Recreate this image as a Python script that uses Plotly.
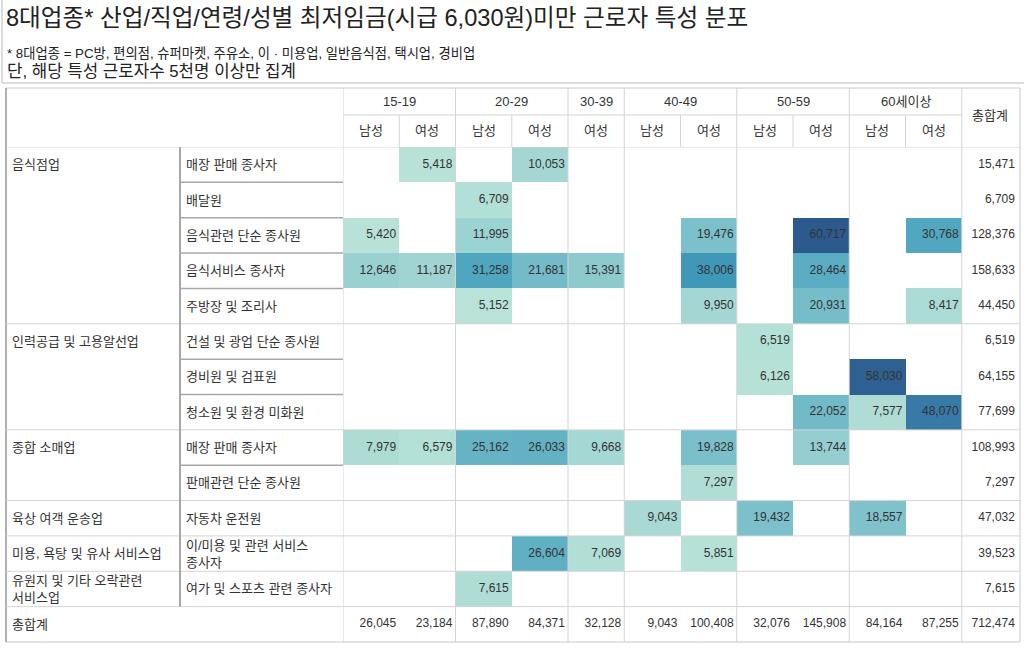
import plotly.graph_objects as go

# ---------------- data ----------------
age_groups = ["15-19", "20-29", "30-39", "40-49", "50-59", "60세이상"]
age_spans = [2, 2, 1, 2, 2, 2]
genders = ["남성", "여성", "남성", "여성", "여성", "남성", "여성", "남성", "여성", "남성", "여성"]
total_label = "총합계"

industries = ["음식점업", "인력공급 및 고용알선업", "종합 소매업", "육상 여객 운송업",
              "미용, 욕탕 및 유사 서비스업", "유원지 및 기타 오락관련<br>서비스업"]
industry_sizes = [5, 3, 2, 1, 1, 1]

occupations = ["매장 판매 종사자", "배달원", "음식관련 단순 종사원", "음식서비스 종사자",
               "주방장 및 조리사", "건설 및 광업 단순 종사원", "경비원 및 검표원",
               "청소원 및 환경 미화원", "매장 판매 종사자", "판매관련 단순 종사원",
               "자동차 운전원", "이/미용 및 관련 서비스<br>종사자", "여가 및 스포츠 관련 종사자"]

N = None
values = [
    [N, 5418, N, 10053, N, N, N, N, N, N, N],
    [N, N, 6709, N, N, N, N, N, N, N, N],
    [5420, N, 11995, N, N, N, 19476, N, 60717, N, 30768],
    [12646, 11187, 31258, 21681, 15391, N, 38006, N, 28464, N, N],
    [N, N, 5152, N, N, N, 9950, N, 20931, N, 8417],
    [N, N, N, N, N, N, N, 6519, N, N, N],
    [N, N, N, N, N, N, N, 6126, N, 58030, N],
    [N, N, N, N, N, N, N, N, 22052, 7577, 48070],
    [7979, 6579, 25162, 26033, 9668, N, 19828, N, 13744, N, N],
    [N, N, N, N, N, N, 7297, N, N, N, N],
    [N, N, N, N, N, 9043, N, 19432, N, 18557, N],
    [N, N, N, 26604, 7069, N, 5851, N, N, N, N],
    [N, N, 7615, N, N, N, N, N, N, N, N],
]
row_totals = [15471, 6709, 128376, 158633, 44450, 6519, 64155, 77699, 108993, 7297, 47032, 39523, 7615]
col_totals = [26045, 23184, 87890, 84371, 32128, 9043, 100408, 32076, 145908, 84164, 87255]
grand_total = 712474

title = "8대업종* 산업/직업/연령/성별 최저임금(시급 6,030원)미만 근로자 특성 분포"
note1 = "* 8대업종 = PC방, 편의점, 슈퍼마켓, 주유소, 이 · 미용업, 일반음식점, 택시업, 경비업"
note2 = "단, 해당 특성 근로자수 5천명 이상만 집계"

# ---------------- layout helpers ----------------
W, H = 1024, 649
FONT = "Liberation Sans, Arial, Noto Sans CJK KR, sans-serif"
TXT = "#333333"
LIGHT = "#d4d4d4"
DARK = "#a8a8a8"


def px(x):
    return x / W


def py(y):
    return 1 - y / H


n_rows = len(occupations)
n_cols = len(genders)

fig = go.Figure()

# heat cells (total row and column included as empty cells)
z = [row + [None] for row in values] + [[None] * (n_cols + 1)]
fig.add_trace(go.Heatmap(
    z=z,
    x=list(range(n_cols + 1)),
    y=list(range(n_rows + 1)),
    colorscale=[[0, "#b9e3d8"], [0.25, "#7dc1cb"], [0.47, "#4ea6bf"],
                [0.6, "#3e97b8"], [0.77, "#3779a7"], [1, "#2c5a8d"]],
    zmin=5152, zmax=60717,
    showscale=False, hoverinfo="skip", xgap=0, ygap=0,
))

# cell numbers (right aligned)
PAD = 0.055
tx, ty, tt = [], [], []
for r in range(n_rows):
    for c in range(n_cols):
        v = values[r][c]
        if v is not None:
            tx.append(c + 0.5 - PAD); ty.append(r); tt.append(f"{v:,}")
    tx.append(n_cols + 0.5 - PAD); ty.append(r); tt.append(f"{row_totals[r]:,}")
for c in range(n_cols):
    tx.append(c + 0.5 - PAD); ty.append(n_rows); tt.append(f"{col_totals[c]:,}")
tx.append(n_cols + 0.5 - PAD); ty.append(n_rows); tt.append(f"{grand_total:,}")

fig.add_trace(go.Scatter(
    x=tx, y=ty, text=tt, mode="text", textposition="middle left",
    textfont=dict(family=FONT, size=12, color=TXT), hoverinfo="skip",
    showlegend=False,
))

annotations = []
# title and notes
annotations.append(dict(text=title, x=px(4), y=py(18), xref="paper", yref="paper",
                        xanchor="left", yanchor="middle", showarrow=False,
                        font=dict(family=FONT, size=23.6, color="#222222")))
annotations.append(dict(text=note1, x=px(5), y=py(53), xref="paper", yref="paper",
                        xanchor="left", yanchor="middle", showarrow=False,
                        font=dict(family=FONT, size=13.3, color="#222222")))
annotations.append(dict(text=note2, x=px(5), y=py(71), xref="paper", yref="paper",
                        xanchor="left", yanchor="middle", showarrow=False,
                        font=dict(family=FONT, size=16.8, color="#222222")))

LAB = 13
# header: age groups
start = 0
age_bounds = []
for g, s in zip(age_groups, age_spans):
    annotations.append(dict(text=g, x=start + (s - 1) / 2, y=py(101), xref="x", yref="paper",
                            xanchor="center", yanchor="middle", showarrow=False,
                            font=dict(family=FONT, size=LAB, color=TXT)))
    start += s
    age_bounds.append(start - 0.5)
for c, g in enumerate(genders):
    annotations.append(dict(text=g, x=c, y=py(131), xref="x", yref="paper",
                            xanchor="center", yanchor="middle", showarrow=False,
                            font=dict(family=FONT, size=LAB, color=TXT)))
annotations.append(dict(text=total_label, x=n_cols, y=py(116), xref="x", yref="paper",
                        xanchor="center", yanchor="middle", showarrow=False,
                        font=dict(family=FONT, size=LAB, color=TXT)))

# row labels
r0 = 0
group_starts = []
for ind, s in zip(industries, industry_sizes):
    annotations.append(dict(text=ind, x=px(10), y=r0, xref="paper", yref="y",
                            xanchor="left", yanchor="middle", showarrow=False, align="left",
                            font=dict(family=FONT, size=LAB, color=TXT)))
    group_starts.append(r0)
    r0 += s
annotations.append(dict(text=total_label, x=px(10), y=n_rows, xref="paper", yref="y",
                        xanchor="left", yanchor="middle", showarrow=False,
                        font=dict(family=FONT, size=LAB, color=TXT)))
for r, o in enumerate(occupations):
    annotations.append(dict(text=o, x=px(184), y=r, xref="paper", yref="y",
                            xanchor="left", yanchor="middle", showarrow=False, align="left",
                            font=dict(family=FONT, size=LAB, color=TXT)))

shapes = []


def line(x0, y0, x1, y1, xref, yref, color=LIGHT, width=1):
    shapes.append(dict(type="line", x0=x0, y0=y0, x1=x1, y1=y1, xref=xref, yref=yref,
                       line=dict(color=color, width=width), layer="above"))


# title box
line(px(2), py(0), px(2), py(83), "paper", "paper", color="#d0d0d0", width=1.5)
line(px(2), py(83), px(1024), py(83), "paper", "paper", color="#d0d0d0", width=1.5)

# table frame
line(px(6), py(88), px(1020), py(88), "paper", "paper", color="#c8c8c8")
line(px(6), py(642), px(1020), py(642), "paper", "paper", color="#c8c8c8")
line(px(1020), py(88), px(1020), py(642), "paper", "paper", color="#c8c8c8")
line(px(6), py(88), px(6), py(642), "paper", "paper", color="#b0b0b0", width=2)

# header lines
line(-0.5, py(115), n_cols - 0.5, py(115), "x", "paper")
line(px(6), -0.5, px(1020), -0.5, "paper", "y")
for c in range(n_cols - 1):
    if c + 0.5 not in age_bounds:
        line(c + 0.5, py(115), c + 0.5, py(147), "x", "paper")

# group separators (full width)
for gs in group_starts[1:] + [n_rows]:
    line(px(6), gs - 0.5, px(1020), gs - 0.5, "paper", "y")
# occupation row separators inside groups
for r in range(1, n_rows):
    if r not in group_starts:
        line(px(180), r - 0.5, px(343), r - 0.5, "paper", "y", color=DARK, width=1.5)

# vertical lines
line(px(180), -0.5, px(180), n_rows - 0.5, "paper", "y", color=DARK, width=2)
for b in [-0.5] + age_bounds:
    line(b, py(88), b, py(642), "x", "paper")

fig.update_layout(
    width=W, height=H,
    margin=dict(l=0, r=0, t=0, b=0),
    paper_bgcolor="white", plot_bgcolor="white",
    xaxis=dict(domain=[px(343), px(1018)], range=[-0.5, n_cols + 0.5], visible=False,
               fixedrange=True),
    yaxis=dict(domain=[py(642), py(147)], range=[n_rows + 0.5, -0.5], visible=False,
               fixedrange=True),
    annotations=annotations, shapes=shapes,
    showlegend=False,
)

fig.write_html("out.html", config={"displayModeBar": False},
               post_script="document.body.style.margin='0';document.body.style.overflow='hidden';")
